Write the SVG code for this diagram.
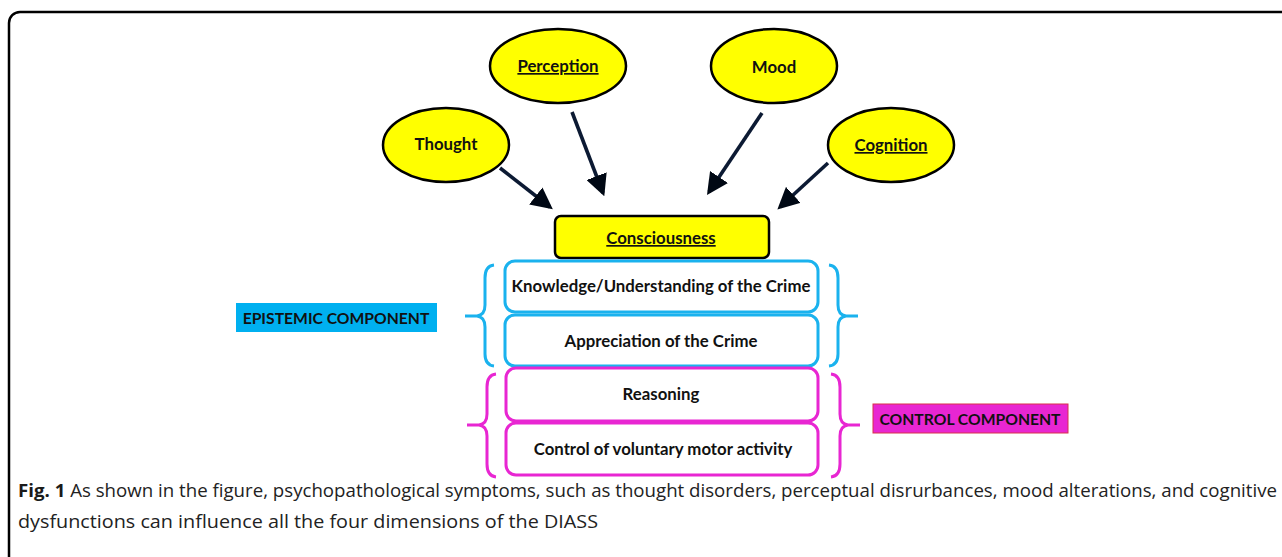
<svg xmlns="http://www.w3.org/2000/svg" width="1282" height="557" viewBox="0 0 1282 557">
<defs>
<marker id="ah" markerWidth="6" markerHeight="6" refX="5" refY="3" orient="auto" markerUnits="strokeWidth">
<path d="M0,0 L6,3 L0,6 Z" fill="#000814"/>
</marker>
<style>
.lbl{font-family:Lato,"Open Sans","Liberation Sans",sans-serif;font-weight:bold;font-size:16.8px;fill:#111;text-anchor:middle}
.comp{font-size:15.7px}
.ul{text-decoration:underline}
.ell{fill:#ffff00;stroke:#000;stroke-width:2.5}
.cbox{fill:#ffff00;stroke:#000;stroke-width:2.5}
.bbox{fill:#fff;stroke:#1ab2ee;stroke-width:3}
.mbox{fill:#fff;stroke:#e826d2;stroke-width:3}
.bbr{fill:none;stroke:#1ab2ee;stroke-width:3}
.mbr{fill:none;stroke:#e826d2;stroke-width:3}
.arr{stroke:#0c1a33;stroke-width:3.6;marker-end:url(#ah);fill:none}
.cap{font-family:"Open Sans","Liberation Sans",sans-serif;font-size:17.5px;fill:#222}
</style>
</defs>
<rect x="9" y="12" width="1320" height="620" rx="11" fill="#fff" stroke="#000" stroke-width="2.5"/>

<g id="connectors">
<line class="arr" x1="500" y1="168" x2="550" y2="207"/>
<line class="arr" x1="572" y1="112" x2="603" y2="193"/>
<line class="arr" x1="762" y1="113" x2="709" y2="192"/>
<line class="arr" x1="828" y1="163" x2="780" y2="207"/>
</g>

<g id="thought"><ellipse class="ell" cx="446" cy="145" rx="63" ry="37"/><text class="lbl" x="446" y="150">Thought</text></g>
<g id="perception"><ellipse class="ell" cx="558" cy="66" rx="68" ry="37"/><text class="lbl ul" x="558" y="72">Perception</text></g>
<g id="mood"><ellipse class="ell" cx="774" cy="66" rx="63" ry="37"/><text class="lbl" x="774" y="73">Mood</text></g>
<g id="cognition"><ellipse class="ell" cx="891" cy="145" rx="63" ry="37"/><text class="lbl ul" x="891" y="151">Cognition</text></g>

<g id="consciousness"><rect class="cbox" x="555" y="216" width="214" height="42" rx="6"/><text class="lbl ul" x="661" y="244">Consciousness</text></g>

<g id="knowledge"><rect class="bbox" x="505" y="261" width="313" height="51" rx="10"/><text class="lbl" x="661" y="292">Knowledge/Understanding of the Crime</text></g>
<g id="appreciation"><rect class="bbox" x="505" y="315" width="313" height="51" rx="10"/><text class="lbl" x="661" y="347">Appreciation of the Crime</text></g>
<g id="reasoning"><rect class="mbox" x="506" y="368" width="312" height="53" rx="10"/><text class="lbl" x="661" y="400">Reasoning</text></g>
<g id="control-motor"><rect class="mbox" x="506" y="423" width="312" height="52" rx="10"/><text class="lbl" x="663" y="455">Control of voluntary motor activity</text></g>

<g id="epistemic-braces">
<path class="bbr" d="M494 265 Q485 266 485 278 L485 305 Q485 315 477 316 L465 316 M477 316 Q485 317 485 327 L485 354 Q485 365 494 366"/>
<path class="bbr" d="M829 265 Q838 266 838 278 L838 305 Q838 315 846 316 L858 316 M846 316 Q838 317 838 327 L838 354 Q838 365 829 366"/>
</g>
<g id="control-braces">
<path class="mbr" d="M496 374 Q487 375 487 387 L487 414 Q487 424 479 425 L467 425 M479 425 Q487 426 487 436 L487 464 Q487 476 496 477"/>
<path class="mbr" d="M831 374 Q840 375 840 387 L840 414 Q840 424 848 425 L860 425 M848 425 Q840 426 840 436 L840 464 Q840 476 831 477"/>
</g>

<g id="epistemic-component"><rect x="236" y="303" width="201" height="29" fill="#00b0f0"/><text class="lbl comp" x="336" y="324">EPISTEMIC COMPONENT</text></g>
<g id="control-component"><rect x="873" y="404" width="195" height="29" fill="#e826d2" stroke="#d8304a" stroke-width="1"/><text class="lbl comp" x="970" y="425">CONTROL COMPONENT</text></g>

<g id="caption">
<text class="cap" x="18" y="497" textLength="1259" lengthAdjust="spacingAndGlyphs"><tspan font-weight="bold" fill="#1a1a1a">Fig. 1</tspan> As shown in the figure, psychopathological symptoms, such as thought disorders, perceptual disrurbances, mood alterations, and cognitive</text>
<text class="cap" x="18" y="528" textLength="580" lengthAdjust="spacingAndGlyphs">dysfunctions can influence all the four dimensions of the DIASS</text>
</g>
</svg>
